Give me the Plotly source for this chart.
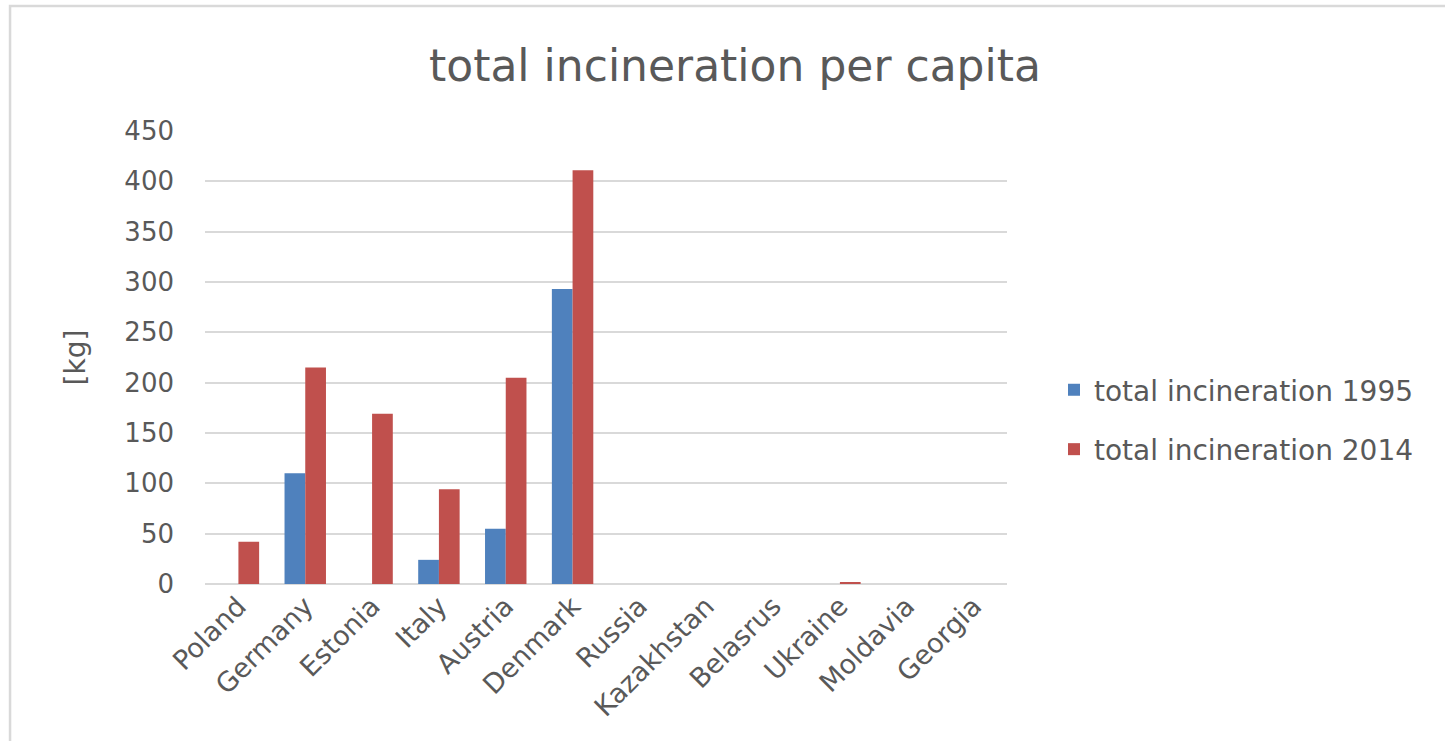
import plotly.graph_objects as go

countries = ["Poland", "Germany", "Estonia", "Italy", "Austria", "Denmark",
             "Russia", "Kazakhstan", "Belasrus", "Ukraine", "Moldavia", "Georgia"]
incineration_1995 = [0, 110, 0, 24, 55, 293, 0, 0, 0, 0, 0, 0]
incineration_2014 = [42, 215, 169, 94, 205, 411, 0, 0, 0, 2, 0, 0]
y_ticks = [0, 50, 100, 150, 200, 250, 300, 350, 400, 450]

TEXT = "#595959"
GRID = "#d9d9d9"
FONT = "DejaVu Sans, Open Sans, sans-serif"

fig = go.Figure()
fig.add_trace(go.Bar(
    x=countries, y=incineration_1995, name="total incineration 1995",
    marker=dict(color="#4f81bd", line=dict(width=0)), legendgroup="a",
))
fig.add_trace(go.Bar(
    x=countries, y=incineration_2014, name="total incineration 2014",
    marker=dict(color="#c0504d", line=dict(width=0)), legendgroup="b",
))

fig.update_layout(
    width=1445, height=741,
    margin=dict(l=205, r=438, t=131, b=157),
    paper_bgcolor="white", plot_bgcolor="white",
    barmode="group", bargap=0.38, bargroupgap=0,
    font=dict(family=FONT, color=TEXT),
    title=dict(text="total incineration per capita", x=735 / 1445, xanchor="center",
               xref="container", y=0.912, yanchor="middle",
               font=dict(size=44, color=TEXT, family=FONT)),
    xaxis=dict(tickangle=-45, tickfont=dict(size=27, color=TEXT),
               showgrid=False, showline=False, ticks="", ticklen=0),
    yaxis=dict(range=[0, 450], tickvals=y_ticks, tickfont=dict(size=26, color=TEXT),
               showgrid=True, gridcolor=GRID, gridwidth=1.5, zeroline=True,
               zerolinecolor=GRID, zerolinewidth=1.5, ticks="", ticklabelstandoff=30,
               title=dict(text="[kg]", font=dict(size=28, color=TEXT), standoff=30)),
    legend=dict(x=1.0586, xanchor="left", y=0.363, yanchor="middle",
                font=dict(size=28, color=TEXT), traceorder="grouped",
                tracegroupgap=20, itemwidth=30, bgcolor="rgba(0,0,0,0)"),
    shapes=[dict(type="rect", xref="paper", yref="paper",
                 x0=-0.2431, x1=1.7, y0=-0.5, y1=1.276,
                 line=dict(color=GRID, width=2.5), fillcolor="rgba(0,0,0,0)",
                 layer="below")],
)

fig.write_html("out.html")
